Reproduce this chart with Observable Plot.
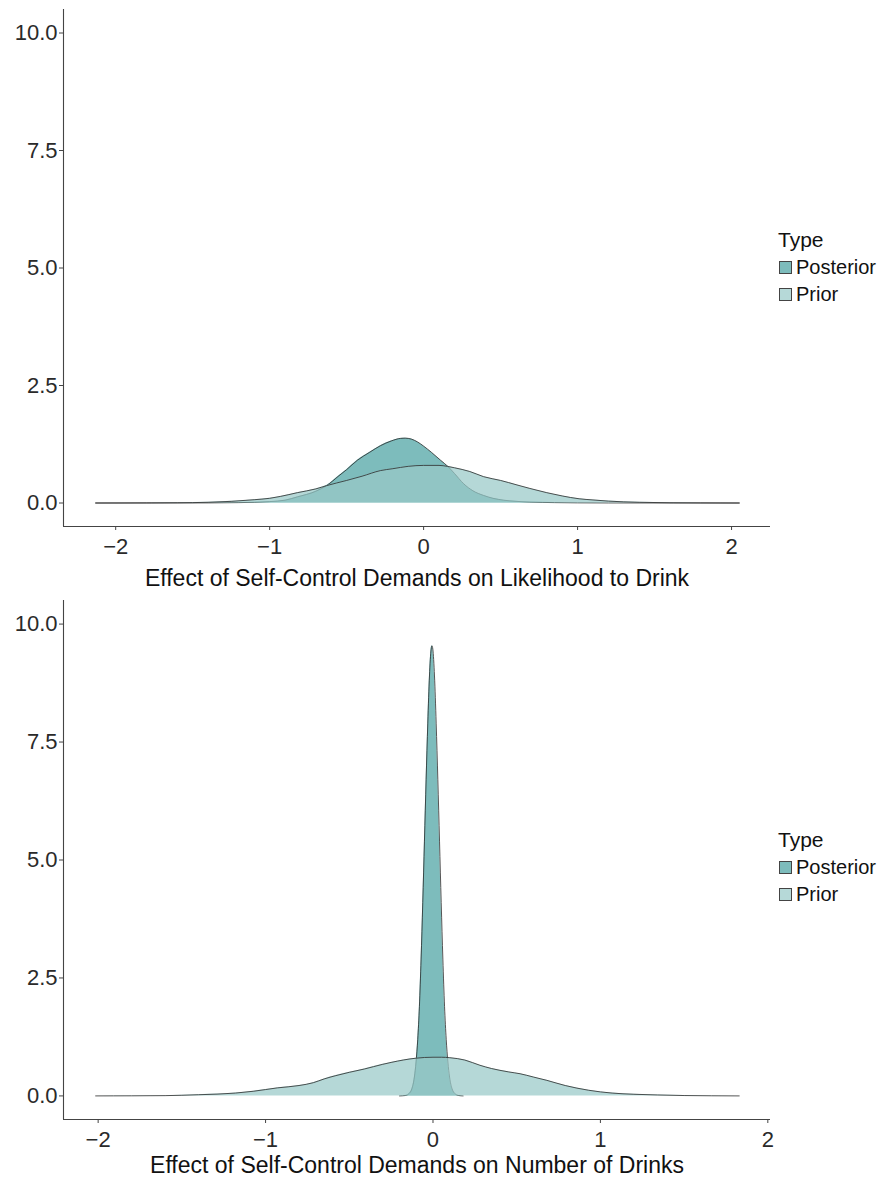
<!DOCTYPE html>
<html><head><meta charset="utf-8">
<script src="https://cdn.jsdelivr.net/npm/d3@7"></script>
<script src="https://cdn.jsdelivr.net/npm/@observablehq/plot@0.6"></script>
<style>
body{margin:0;background:#fff;font-family:"Liberation Sans",Arial,sans-serif;}
.panel{position:relative;width:881px;}
.lg-title{position:absolute;left:778px;font-size:21px;line-height:26px;color:#111;}
.lg-row{position:absolute;left:779px;font-size:20px;line-height:26px;color:#111;display:flex;align-items:center;}
.sw{display:inline-block;width:11px;height:11px;border:1px solid #444;margin-right:4px;}
</style></head>
<body><div id="chart"></div>
<script>
// Legend categories
const types = ["Posterior", "Prior"];
const typeColors = ["#7dbcbc", "#b6d9d8"];

// Panel titles
const titles = [
  "Effect of Self-Control Demands on Likelihood to Drink",
  "Effect of Self-Control Demands on Number of Drinks"
];

// Axis ticks
const xTicks = [-2, -1, 0, 1, 2];
const yTicks = [0, 2.5, 5, 7.5, 10];

// Panel 1: Likelihood to Drink — Prior density
const likePriorX = [-2.13,-1.8,-1.6,-1.4,-1.25,-1.1,-1.0,-0.93,-0.82,-0.7,-0.63,-0.5,-0.4,-0.28,-0.2,-0.1,0.0,0.1,0.154,0.2,0.3,0.39,0.5,0.6,0.69,0.8,0.9,1.01,1.1,1.2,1.4,1.6,1.8,2.05];
const likePriorY = [0,0.002,0.005,0.015,0.035,0.07,0.10,0.14,0.22,0.30,0.37,0.48,0.57,0.69,0.73,0.78,0.80,0.80,0.78,0.75,0.67,0.56,0.48,0.39,0.31,0.22,0.15,0.09,0.065,0.04,0.015,0.005,0.002,0];
// Panel 1: Posterior density
const likePostX = [-2.13,-1.4,-1.2,-1.0,-0.9,-0.82,-0.7,-0.63,-0.55,-0.5,-0.43,-0.35,-0.28,-0.21,-0.15,-0.12,-0.08,-0.04,0.0,0.05,0.11,0.16,0.2,0.26,0.32,0.39,0.45,0.52,0.6,0.69,0.85,1.0,1.2,2.05];
const likePostY = [0,0.002,0.008,0.03,0.06,0.13,0.25,0.37,0.58,0.71,0.91,1.08,1.22,1.32,1.375,1.38,1.36,1.30,1.21,1.08,0.91,0.77,0.63,0.41,0.26,0.16,0.10,0.06,0.035,0.02,0.008,0.003,0.001,0];

// Panel 2: Number of Drinks — Prior density
const numPriorX = [-2.015,-1.8,-1.6,-1.4,-1.18,-1.07,-0.93,-0.8,-0.715,-0.65,-0.58,-0.5,-0.41,-0.3,-0.25,-0.1,0.0,0.05,0.1,0.19,0.28,0.35,0.45,0.52,0.6,0.68,0.79,0.93,1.07,1.2,1.34,1.5,1.829];
const numPriorY = [0,0.002,0.006,0.025,0.06,0.10,0.17,0.22,0.28,0.36,0.43,0.50,0.57,0.67,0.71,0.80,0.82,0.82,0.81,0.76,0.65,0.58,0.51,0.47,0.40,0.33,0.22,0.12,0.06,0.035,0.02,0.008,0];
// Panel 2: Posterior density
const numPostX = [-0.2,-0.166,-0.146,-0.126,-0.111,-0.101,-0.091,-0.081,-0.071,-0.061,-0.051,-0.041,-0.031,-0.021,-0.011,-0.006,-0.001,0.009,0.019,0.029,0.039,0.049,0.059,0.069,0.079,0.089,0.099,0.114,0.134,0.154,0.18];
const numPostY = [0,0.008,0.04,0.15,0.40,0.72,1.2,1.9,2.9,4.1,5.4,6.7,7.9,8.9,9.47,9.54,9.47,8.9,7.9,6.7,5.4,4.1,2.9,1.9,1.2,0.72,0.40,0.15,0.04,0.008,0];

const FONT = '"Liberation Sans",Arial,sans-serif';
const zip = (xs, ys) => xs.map((x, i) => ({x, y: ys[i]}));
const minus = d => d < 0 ? "\u2212" + Math.abs(d) : String(d);

function panel(cfg) {
  const post = zip(cfg.postX, cfg.postY);
  const prior = zip(cfg.priorX, cfg.priorY);
  const curve = "monotone-x";
  const plot = Plot.plot({
    width: 881, height: cfg.height,
    marginLeft: 63, marginRight: 111, marginTop: cfg.marginTop, marginBottom: cfg.marginBottom,
    style: {fontFamily: FONT, fontSize: "22px", color: "#2a2a2a", background: "#fff"},
    x: {domain: cfg.xDomain},
    y: {domain: [-0.5, 10.5]},
    marks: [
      Plot.areaY(post, {x: "x", y: "y", fill: typeColors[0], curve}),
      Plot.lineY(post, {x: "x", y: "y", stroke: "#2a2a2a", strokeWidth: 0.8, curve}),
      Plot.areaY(prior, {x: "x", y: "y", fill: "#99c9c7", fillOpacity: 0.72, curve}),
      Plot.lineY(prior, {x: "x", y: "y", stroke: "#2a2a2a", strokeWidth: 0.8, curve}),
      Plot.ruleX([cfg.xDomain[0]], {stroke: "#444", strokeWidth: 1.1}),
      Plot.ruleY([-0.5], {stroke: "#444", strokeWidth: 1.1}),
      Plot.axisX({ticks: xTicks, tickFormat: minus, tickSize: 4, tickPadding: 8, label: null, stroke: "#444", fill: "#2a2a2a"}),
      Plot.axisY({ticks: yTicks, tickFormat: d3.format(".1f"), tickSize: 4, tickPadding: 2, label: null, stroke: "#444", fill: "#2a2a2a"}),
      Plot.text([cfg.title], {frameAnchor: "bottom", dy: cfg.titleDy, text: d => d, fontSize: 23, fill: "#111", lineAnchor: "middle"})
    ]
  });
  const div = document.createElement("div");
  div.className = "panel";
  div.style.height = cfg.height + "px";
  div.appendChild(plot);
  const t = document.createElement("div");
  t.className = "lg-title"; t.textContent = "Type"; t.style.top = (cfg.legendTop) + "px";
  div.appendChild(t);
  types.forEach((name, i) => {
    const r = document.createElement("div");
    r.className = "lg-row";
    r.style.top = (cfg.legendTop + 27 + i * 27) + "px";
    const s = document.createElement("span");
    s.className = "sw"; s.style.background = typeColors[i];
    r.appendChild(s);
    r.appendChild(document.createTextNode(name));
    div.appendChild(r);
  });
  return div;
}

const root = document.getElementById("chart");
root.appendChild(panel({
  height: 592, marginTop: 9, marginBottom: 66, xDomain: [-2.339, 2.253],
  priorX: likePriorX, priorY: likePriorY, postX: likePostX, postY: likePostY,
  title: titles[0], titleDy: 52, legendTop: 227
}));
root.appendChild(panel({
  height: 587, marginTop: 8, marginBottom: 60, xDomain: [-2.207, 2.016],
  priorX: numPriorX, priorY: numPriorY, postX: numPostX, postY: numPostY,
  title: titles[1], titleDy: 46, legendTop: 235
}));
</script>
</body></html>
